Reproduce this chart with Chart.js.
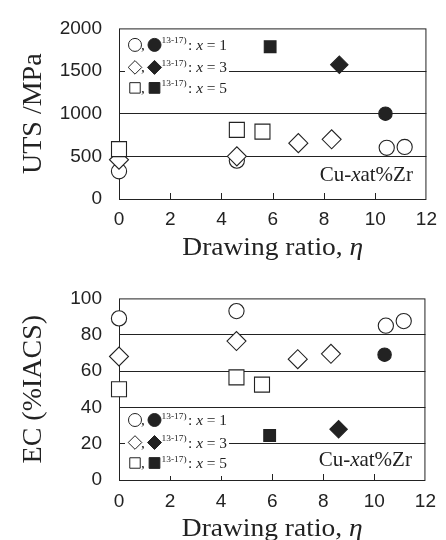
<!DOCTYPE html>
<html lang="en">
<head>
<meta charset="UTF-8">
<title>Cu-xat%Zr wires: UTS and EC vs drawing ratio</title>
<script src="https://cdn.jsdelivr.net/npm/chart.js"></script>
<style>
  body { margin: 0; background: #fff; }
  .panel { position: absolute; left: 0; width: 446px; height: 270px; }
</style>
</head>
<body>
<div class="panel" style="top:0"><canvas id="utsChart"></canvas></div>
<div class="panel" style="top:270px"><canvas id="ecChart"></canvas></div>
<script>
// drawing ratio of each sample (open = this work, filled = refs 13-17)
var circleX = [0, 4.6, 10.45, 11.15];
var diamondX = [0, 4.6, 7.0, 8.3];
var squareX = [0, 4.6, 5.6];
var refCircleX = [10.4];
var refDiamondX = [8.6];
var refSquareX = [5.9];

// UTS /MPa
var utsCircle = [325, 450, 600, 610];
var utsDiamond = [460, 500, 655, 700];
var utsSquare = [585, 810, 790];
var utsRefCircle = [1000];
var utsRefDiamond = [1575];
var utsRefSquare = [1785];

// EC (%IACS)
var ecCircle = [89, 93, 85, 87.5];
var ecDiamond = [68, 76.5, 66.5, 69.5];
var ecSquare = [50, 56.5, 52.5];
var ecRefCircle = [69];
var ecRefDiamond = [28];
var ecRefSquare = [24.5];

// axes and labels
var xTicks = [0, 2, 4, 6, 8, 10, 12];
var utsTicks = [0, 500, 1000, 1500, 2000];
var ecTicks = [0, 20, 40, 60, 80, 100];
var legendX = ['1', '3', '5'];
var refNote = '13-17)';
var alloyLabel = ['Cu-', 'x', 'at%Zr'];
var xTitle = ['Drawing ratio, ', '\u03b7'];

var INK = '#222';
var SERIF = "'Liberation Serif', 'Times New Roman', serif";
var SANS = "'Liberation Sans', Arial, sans-serif";

function pts(xs, ys) {
    return xs.map(function (x, i) { return { x: x, y: ys[i] }; });
}

function series(xs, ys, style, radius, filled) {
    return {
        data: pts(xs, ys),
        showLine: false,
        clip: false,
        pointStyle: style,
        pointRadius: radius,
        pointHoverRadius: radius,
        pointBorderWidth: 1.1,
        pointBorderColor: INK,
        pointBackgroundColor: filled ? INK : '#fff'
    };
}

// draw a line of mixed-style text, slightly stretched horizontally like the scan
function drawRuns(ctx, runs, x, y, align, sx) {
    var total = 0;
    runs.forEach(function (r) { ctx.font = r[1]; r.w = ctx.measureText(r[0]).width; total += r.w; });
    ctx.save();
    ctx.translate(x, y);
    ctx.scale(sx, 1);
    var cx = align === 'center' ? -total / 2 : (align === 'right' ? -total : 0);
    ctx.textAlign = 'left';
    ctx.textBaseline = 'alphabetic';
    ctx.fillStyle = INK;
    runs.forEach(function (r) { ctx.font = r[1]; ctx.fillText(r[0], cx, r[2] || 0); cx += r.w; });
    ctx.restore();
}

function symbol(ctx, style, r, x, y, filled) {
    ctx.fillStyle = filled ? INK : '#fff';
    ctx.strokeStyle = INK;
    ctx.lineWidth = 1;
    Chart.helpers.drawPoint(ctx, { pointStyle: style, radius: r, borderWidth: 1, rotation: 0 }, x, y);
}

function decorations(legendRows, labelDy) {
    return {
        id: 'decor',
        beforeDatasetsDraw: function (chart) {
            var ctx = chart.ctx, a = chart.chartArea, xs = chart.scales.x;
            ctx.save();
            ctx.strokeStyle = INK;
            ctx.lineWidth = 1;
            // frame
            ctx.strokeRect(a.left + 0.5, a.top + 0.5, a.right - a.left - 1, a.bottom - a.top);
            // short inward ticks on the bottom axis
            ctx.beginPath();
            xTicks.forEach(function (v) {
                if (v <= xTicks[0] || v >= xTicks[xTicks.length - 1]) return;
                var px = Math.round(xs.getPixelForValue(v)) + 0.5;
                ctx.moveTo(px, a.bottom);
                ctx.lineTo(px, a.bottom - 6);
            });
            ctx.stroke();

            // legend box
            var rows = legendRows(a);
            ctx.fillStyle = '#fff';
            ctx.fillRect(a.left + 6, rows[0] - 12, 104, 68);
            var styles = [['circle', 6.5, 6.5], ['rectRot', 6.8, 7], ['rect', 7.4, 7.6]];
            rows.forEach(function (ry, i) {
                var s = styles[i];
                symbol(ctx, s[0], s[1], a.left + 16, ry, false);
                symbol(ctx, s[0], s[2], a.left + 35.5, ry, true);
                drawRuns(ctx, [[',', '14px ' + SERIF]], a.left + 22, ry + 5, 'left', 1.1);
                drawRuns(ctx, [[refNote, '9px ' + SERIF]], a.left + 42.5, ry - 1.5, 'left', 1.05);
                drawRuns(ctx, [
                    [': ', '14px ' + SERIF],
                    ['x', 'italic 14px ' + SERIF],
                    [' = ' + legendX[i], '14px ' + SERIF]
                ], a.left + 69, ry + 5, 'left', 1.1);
            });

            // alloy label
            drawRuns(ctx, [
                [alloyLabel[0], '21px ' + SERIF],
                [alloyLabel[1], 'italic 21px ' + SERIF],
                [alloyLabel[2], '21px ' + SERIF]
            ], a.right - 13.5, a.bottom - labelDy, 'right', 1.0);

            // x axis title
            drawRuns(ctx, [
                [xTitle[0], '25px ' + SERIF],
                [xTitle[1], 'italic 25px ' + SERIF]
            ], (a.left + a.right) / 2, a.bottom + 55.5, 'center', 1.1);
            ctx.restore();
        }
    };
}

function makeChart(id, sets, yTicks, yTitle, pad, xHeight, tickPad, legendRows, labelDy) {
    var yMax = yTicks[yTicks.length - 1];
    return new Chart(document.getElementById(id), {
        type: 'scatter',
        data: {
            datasets: [
                series(refSquareX, sets[5], 'rect', 8.3, true),
                series(refDiamondX, sets[4], 'rectRot', 8.7, true),
                series(refCircleX, sets[3], 'circle', 6.7, true),
                series(squareX, sets[2], 'rect', 10.6, false),
                series(diamondX, sets[1], 'rectRot', 9.5, false),
                series(circleX, sets[0], 'circle', 7.6, false)
            ]
        },
        options: {
            responsive: true,
            maintainAspectRatio: false,
            animation: false,
            events: [],
            layout: { padding: pad },
            plugins: { legend: { display: false }, tooltip: { enabled: false } },
            scales: {
                x: {
                    type: 'linear',
                    min: xTicks[0],
                    max: xTicks[xTicks.length - 1],
                    afterBuildTicks: function (s) { s.ticks = xTicks.map(function (v) { return { value: v }; }); },
                    grid: { display: false, drawTicks: false },
                    border: { display: false },
                    ticks: {
                        color: INK, padding: tickPad, maxRotation: 0, autoSkip: false,
                        font: { family: SANS, size: 19 },
                        callback: function (v) { return String(v); }
                    },
                    afterFit: function (s) { s.height = xHeight; }
                },
                y: {
                    min: yTicks[0],
                    max: yMax,
                    afterBuildTicks: function (s) { s.ticks = yTicks.map(function (v) { return { value: v }; }); },
                    grid: {
                        drawTicks: false,
                        color: function (c) { return (c.tick && (c.tick.value === 0 || c.tick.value === yMax)) ? 'rgba(0,0,0,0)' : INK; }
                    },
                    border: { display: false },
                    ticks: {
                        color: INK, padding: 17,
                        font: { family: SANS, size: 19 },
                        callback: function (v) { return String(v); }
                    },
                    title: { display: true, text: yTitle, color: INK, padding: { top: 11.5, bottom: 0 }, font: { family: SERIF, size: 28 } },
                    afterFit: function (s) { s.width = 114; }
                }
            }
        },
        plugins: [decorations(legendRows, labelDy)]
    });
}

makeChart('utsChart',
    [utsCircle, utsDiamond, utsSquare, utsRefCircle, utsRefDiamond, utsRefSquare],
    utsTicks, 'UTS /MPa',
    { left: 5, right: 14, top: 13, bottom: 0 }, 71, 9,
    function (a) { return [a.top + 16.5, a.top + 39, a.top + 59.5]; }, 18);

makeChart('ecChart',
    [ecCircle, ecDiamond, ecSquare, ecRefCircle, ecRefDiamond, ecRefSquare],
    ecTicks, 'EC (%IACS)',
    { left: 5, right: 14, top: 21, bottom: 0 }, 60, 10,
    function (a) { return [a.bottom - 60, a.bottom - 37.5, a.bottom - 17]; }, 14);
</script>
</body>
</html>
